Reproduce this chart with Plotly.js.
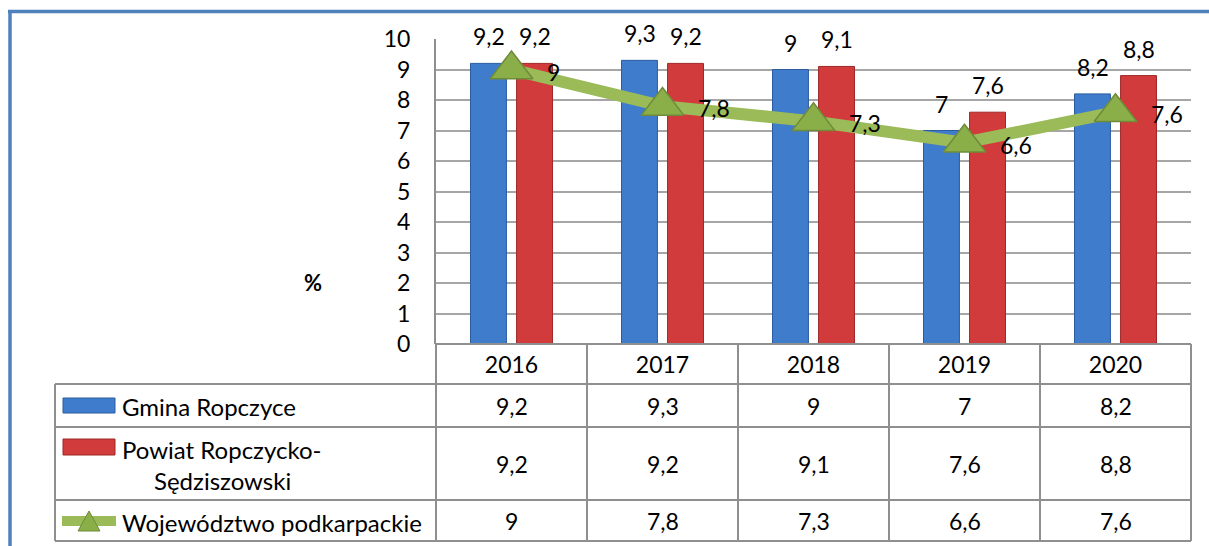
<!DOCTYPE html>
<html>
<head>
<meta charset="utf-8">
<script src="https://cdn.plot.ly/plotly-3.0.1.min.js"></script>
<style>
html,body{margin:0;padding:0;background:#fff;}
#chart{width:1209px;height:546px;}
</style>
</head>
<body>
<div id="chart"></div>
<script>
const years = ['2016', '2017', '2018', '2019', '2020'];
const gmina = [9.2, 9.3, 9.0, 7.0, 8.2];
const powiat = [9.2, 9.2, 9.1, 7.6, 8.8];
const wojewodztwo = [9.0, 7.8, 7.3, 6.6, 7.6];
const seriesNames = ['Gmina Ropczyce', 'Powiat Ropczycko-Sędziszowski', 'Województwo podkarpackie'];
const powiatLines = ['Powiat Ropczycko-', 'Sędziszowski'];
const yTicks = [0, 1, 2, 3, 4, 5, 6, 7, 8, 9, 10];
const unitLabel = '%';

const FONT = 'Lato, "Liberation Sans", Arial, sans-serif';
const FS = 23;
const fmt = v => String(v).replace('.', ',');

const W = 1209, H = 546;
const M = {l: 436, r: 18, t: 39, b: 202};
const PW = W - M.l - M.r, PH = H - M.t - M.b;
const px = x => (x - M.l) / PW;
const py = y => (H - M.b - y) / PH;

const BLUE = '#3F7CCB', BLUE_D = '#2B5C9E';
const RED = '#D23B3B', RED_D = '#9E2828';
const GREEN = '#9BBB59', GREEN_D = '#6F8B3A', GREEN_M = '#8AAE48';
const GRID = '#A6A6A6', TBL = '#8F8F8F';

const traces = [
  {type: 'bar', x: years, y: gmina, name: seriesNames[0], showlegend: false,
   marker: {color: BLUE, line: {color: BLUE_D, width: 1}}, hoverinfo: 'y'},
  {type: 'bar', x: years, y: powiat, name: seriesNames[1], showlegend: false,
   marker: {color: RED, line: {color: RED_D, width: 1}}, hoverinfo: 'y'},
  {type: 'scatter', mode: 'lines+markers', x: years, y: wojewodztwo, name: seriesNames[2], showlegend: false,
   line: {color: GREEN, width: 12},
   marker: {symbol: 'triangle-up', size: 37, color: GREEN_M, line: {color: GREEN_D, width: 1.5}},
   hoverinfo: 'y'}
];

const txt = (extra) => Object.assign({showarrow: false, xanchor: 'center', yanchor: 'middle',
  font: {family: FONT, size: FS, color: '#000'}}, extra);

const annotations = [];
const shift = 23;
years.forEach((yr, i) => {
  annotations.push(txt({x: i, y: gmina[i], xref: 'x', yref: 'y', text: fmt(gmina[i]), xshift: -shift, yshift: 27}));
  annotations.push(txt({x: i, y: powiat[i], xref: 'x', yref: 'y', text: fmt(powiat[i]), xshift: shift, yshift: 27}));
  annotations.push(txt({x: i, y: wojewodztwo[i], xref: 'x', yref: 'y', text: fmt(wojewodztwo[i]),
    xanchor: 'left', xshift: 33, yshift: -2}));
});

// table rows (pixel borders)
const rowTops = [384, 427, 500, 541];
const rowData = [gmina, powiat, wojewodztwo];
rowData.forEach((arr, r) => {
  const cy = (rowTops[r] + rowTops[r + 1]) / 2;
  years.forEach((yr, i) => {
    annotations.push(txt({x: i, y: py(cy), xref: 'x', yref: 'paper', text: fmt(arr[i])}));
  });
});
// legend texts in table
annotations.push(txt({x: px(120), y: py(406), xref: 'paper', yref: 'paper', xanchor: 'left', text: seriesNames[0], font: {family: FONT, size: 24, color: '#000'}}));
annotations.push(txt({x: px(120), y: py(449), xref: 'paper', yref: 'paper', xanchor: 'left', text: powiatLines[0], font: {family: FONT, size: 24, color: '#000'}}));
annotations.push(txt({x: px(152), y: py(480), xref: 'paper', yref: 'paper', xanchor: 'left', text: powiatLines[1], font: {family: FONT, size: 24, color: '#000'}}));
annotations.push(txt({x: px(120), y: py(522), xref: 'paper', yref: 'paper', xanchor: 'left', text: seriesNames[2], font: {family: FONT, size: 24, color: '#000'}}));
annotations.push(txt({x: px(313), y: py(282), xref: 'paper', yref: 'paper', text: '<b>' + unitLabel + '</b>',
  font: {family: FONT, size: 22, color: '#000'}}));

const shapes = [];
const L = (x0, y0, x1, y1, color, width) => shapes.push({type: 'line', xref: 'paper', yref: 'paper',
  x0: px(x0), y0: py(y0), x1: px(x1), y1: py(y1), line: {color: color, width: width}});
// table grid
L(436, 344, 1191, 344, TBL, 2);
rowTops.forEach(y => L(55, y, 1191, y, TBL, 2));
L(55, 384, 55, 541, TBL, 2);
for (let i = 0; i <= years.length; i++) {
  const xx = M.l + PW * i / years.length;
  L(xx, 344, xx, 541, TBL, 2);
}
// frame
L(8, 11.5, 1209, 11.5, '#4F81BD', 3.5);
L(10, 10, 10, 546, '#4F81BD', 3.5);
// legend keys
shapes.push({type: 'rect', xref: 'paper', yref: 'paper', x0: px(63), x1: px(115), y0: py(413), y1: py(398),
  fillcolor: BLUE, line: {color: BLUE_D, width: 1}});
shapes.push({type: 'rect', xref: 'paper', yref: 'paper', x0: px(63), x1: px(115), y0: py(455), y1: py(439),
  fillcolor: RED, line: {color: RED_D, width: 1}});
L(62, 521, 116, 521, GREEN, 10);
shapes.push({type: 'path', xref: 'paper', yref: 'paper',
  path: `M ${px(78)} ${py(531)} L ${px(100)} ${py(531)} L ${px(89)} ${py(511)} Z`,
  fillcolor: GREEN_M, line: {color: GREEN_D, width: 1}});

const layout = {
  width: W, height: H,
  margin: {l: M.l, r: M.r, t: M.t, b: M.b, pad: 0},
  paper_bgcolor: '#fff', plot_bgcolor: '#fff',
  barmode: 'group', bargap: 0.39, bargroupgap: 0.22,
  showlegend: false,
  font: {family: FONT, size: FS, color: '#000'},
  xaxis: {type: 'category', categoryarray: years, range: [-0.5, 4.5], showgrid: false, zeroline: false,
    showline: false, ticks: '', ticklabelstandoff: 5, tickfont: {family: FONT, size: FS, color: '#000'}, fixedrange: true},
  yaxis: {range: [0, 10], tickvals: yTicks, ticktext: yTicks.map(String), showgrid: true, gridcolor: GRID, gridwidth: 2,
    zeroline: false, showline: true, linecolor: TBL, linewidth: 2, ticks: '', ticklabelstandoff: 19,
    tickfont: {family: FONT, size: FS, color: '#000'}, fixedrange: true},
  annotations: annotations,
  shapes: shapes
};

Plotly.newPlot('chart', traces, layout, {displayModeBar: false, staticPlot: true});
</script>
</body>
</html>
